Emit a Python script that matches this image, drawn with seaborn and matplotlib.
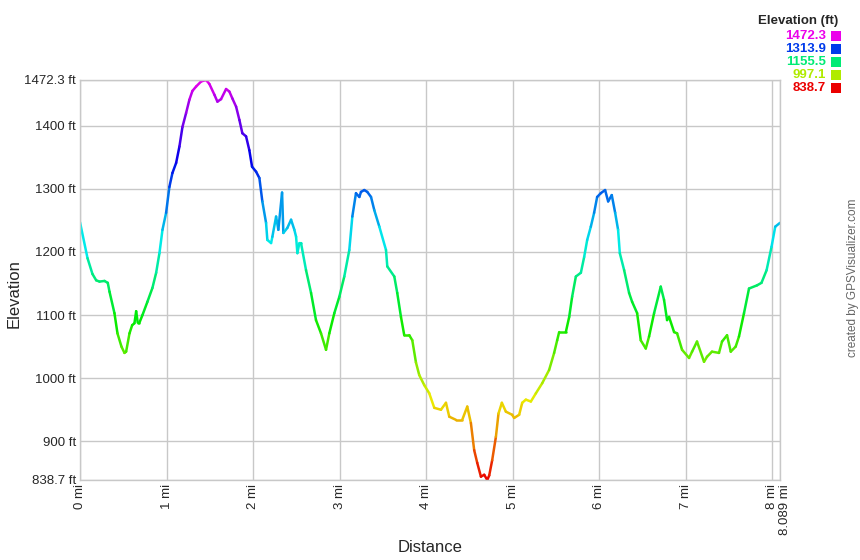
import colorsys
import seaborn as sns
import matplotlib.pyplot as plt
import matplotlib.transforms as mtransforms
import pandas as pd
import numpy as np

# profile: distance [mi], elevation [ft]
dist_mi = [0.000, 0.087, 0.144, 0.187, 0.225, 0.283, 0.321, 0.341, 0.398, 0.433,
           0.479, 0.514, 0.533, 0.572, 0.603, 0.629, 0.649, 0.667, 0.687, 0.722,
           0.779, 0.837, 0.880, 0.918, 0.953, 0.995, 1.033, 1.068, 1.111, 1.149,
           1.184, 1.226, 1.264, 1.299, 1.342, 1.400, 1.457, 1.495, 1.553, 1.588,
           1.630, 1.688, 1.726, 1.761, 1.804, 1.842, 1.876, 1.919, 1.957, 1.988,
           2.035, 2.073, 2.107, 2.150, 2.165, 2.208, 2.223, 2.266, 2.292, 2.335,
           2.350, 2.396, 2.439, 2.477, 2.497, 2.512, 2.535, 2.554, 2.612, 2.670,
           2.727, 2.785, 2.843, 2.881, 2.939, 2.997, 3.054, 3.112, 3.147, 3.189,
           3.228, 3.247, 3.285, 3.320, 3.363, 3.401, 3.459, 3.536, 3.551, 3.632,
           3.666, 3.709, 3.747, 3.805, 3.840, 3.882, 3.920, 3.978, 4.036, 4.094,
           4.171, 4.229, 4.267, 4.344, 4.417, 4.475, 4.517, 4.555, 4.590, 4.633,
           4.671, 4.706, 4.729, 4.763, 4.806, 4.836, 4.875, 4.921, 4.994, 5.017,
           5.075, 5.110, 5.152, 5.210, 5.268, 5.341, 5.421, 5.479, 5.514, 5.537,
           5.614, 5.653, 5.687, 5.730, 5.788, 5.826, 5.861, 5.903, 5.941, 5.976,
           6.018, 6.068, 6.103, 6.145, 6.184, 6.218, 6.238, 6.288, 6.345, 6.380,
           6.438, 6.480, 6.538, 6.576, 6.634, 6.711, 6.749, 6.784, 6.807, 6.865,
           6.900, 6.957, 7.038, 7.073, 7.130, 7.211, 7.246, 7.303, 7.384, 7.419,
           7.477, 7.520, 7.577, 7.615, 7.673, 7.731, 7.823, 7.875, 7.934, 7.991,
           8.034, 8.089]
elev_ft = [1247, 1190, 1165, 1155, 1153, 1154, 1151, 1137, 1103, 1071,
           1050, 1040, 1042, 1071, 1084, 1087, 1106, 1088, 1088, 1100,
           1121, 1143, 1167, 1198, 1235, 1262, 1303, 1325, 1341, 1367,
           1398, 1420, 1441, 1455, 1462, 1470, 1472.3, 1466, 1449, 1438,
           1442, 1458, 1454, 1443, 1430, 1409, 1388, 1383, 1361, 1335,
           1327, 1317, 1280, 1246, 1219, 1214, 1224, 1256, 1235, 1294,
           1230, 1238, 1251, 1235, 1224, 1198, 1214, 1214, 1171, 1135,
           1092, 1071, 1045, 1071, 1103, 1129, 1161, 1203, 1256, 1293,
           1287, 1295, 1298, 1295, 1287, 1266, 1240, 1203, 1177, 1161,
           1135, 1097, 1068, 1068, 1060, 1025, 1005, 989, 976, 953,
           950, 961, 939, 934, 934, 955, 929, 886, 866, 844,
           847, 838.7, 846, 870, 907, 944, 961, 947, 942, 937,
           942, 961, 966, 963, 976, 992, 1013, 1040, 1060, 1073,
           1073, 1097, 1129, 1161, 1167, 1192, 1219, 1240, 1262, 1287,
           1293, 1298, 1280, 1290, 1262, 1235, 1198, 1171, 1135, 1121,
           1103, 1060, 1047, 1066, 1103, 1145, 1124, 1092, 1097, 1073,
           1071, 1045, 1032, 1042, 1058, 1026, 1034, 1042, 1040, 1058,
           1068, 1042, 1050, 1066, 1103, 1142, 1147, 1151, 1171, 1208,
           1240, 1246]

elev_min, elev_max = 838.7, 1472.3
ytick_vals = [838.7, 900, 1000, 1100, 1200, 1300, 1400, 1472.3]
ytick_labels = ['838.7 ft', '900 ft', '1000 ft', '1100 ft', '1200 ft', '1300 ft', '1400 ft', '1472.3 ft']
xtick_vals = [0, 1, 2, 3, 4, 5, 6, 7, 8, 8.089]
xtick_labels = ['0 mi', '1 mi', '2 mi', '3 mi', '4 mi', '5 mi', '6 mi', '7 mi', '8 mi', '8.089 mi']
legend_vals = ['1472.3', '1313.9', '1155.5', '997.1', '838.7']


def elev_color(e):
    # red -> yellow -> green -> blue -> magenta
    t = (float(e) - elev_min) / (elev_max - elev_min)
    t = min(max(t, 0), 1)
    return colorsys.hsv_to_rgb(t * 300 / 360, 1.0, 0.92)


sns.set_style('white')
plt.rcParams['font.family'] = ['Liberation Sans', 'DejaVu Sans']

# one small two-point line per segment, so each gets its own colour
rows = []
seg_colors = {}
for i in range(len(dist_mi) - 1):
    for j in (i, i + 1):
        rows.append({'seg': i, 'dist': dist_mi[j], 'elev': elev_ft[j]})
    seg_colors[i] = elev_color((elev_ft[i] + elev_ft[i + 1]) / 2)
df = pd.DataFrame(rows)

fig = plt.figure(figsize=(8.6, 5.6), dpi=100)
ax = fig.add_axes([80 / 860, 1 - 480 / 560, 700 / 860, 400 / 560])

sns.lineplot(data=df, x='dist', y='elev', hue='seg', palette=seg_colors, legend=False,
             sort=False, estimator=None, linewidth=1.8, solid_capstyle='round', ax=ax)

ax.set_xlim(0, 8.089)
ax.set_ylim(elev_min, elev_max)
ax.set_xticks(xtick_vals)
ax.set_xticklabels(xtick_labels, rotation=90, fontsize=9.5)
ax.set_yticks(ytick_vals)
ax.set_yticklabels(ytick_labels, fontsize=9.5)
ax.tick_params(length=0, pad=3)
ax.grid(True, color='#c8c8c8', linewidth=1)
for s in ax.spines.values():
    s.set_color('#c8c8c8')
    s.set_linewidth(1)
ax.set_xlabel('')
ax.set_ylabel('')

# push the last label a little right, as in the original
last = ax.get_xticklabels()[-1]
last.set_transform(last.get_transform() + mtransforms.ScaledTranslation(5 / 100, 0, fig.dpi_scale_trans))

fig.text(430 / 860, 1 - 548 / 560, 'Distance', ha='center', va='center', fontsize=12)
fig.text(14 / 860, 1 - 294 / 560, 'Elevation', ha='center', va='center', rotation=90, fontsize=12)
fig.text(853 / 860, 1 - 278 / 560, 'created by GPSVisualizer.com', ha='center', va='center',
         rotation=90, fontsize=8.5, color='#666666')

# elevation legend, top right
fig.text(838 / 860, 1 - 21 / 560, 'Elevation (ft)', ha='right', va='center', fontsize=9.5, fontweight='bold')
for k, lab in enumerate(legend_vals):
    y = 1 - (36 + 13 * k) / 560
    col = elev_color(lab)
    fig.text(826 / 860, y, lab, ha='right', va='center', fontsize=9.5, fontweight='bold', color=col)
    fig.patches.append(plt.Rectangle((831 / 860, y - 5 / 560), 10 / 860, 10 / 560,
                                     transform=fig.transFigure, facecolor=col, edgecolor='none'))

fig.savefig('out.png', dpi=100)
